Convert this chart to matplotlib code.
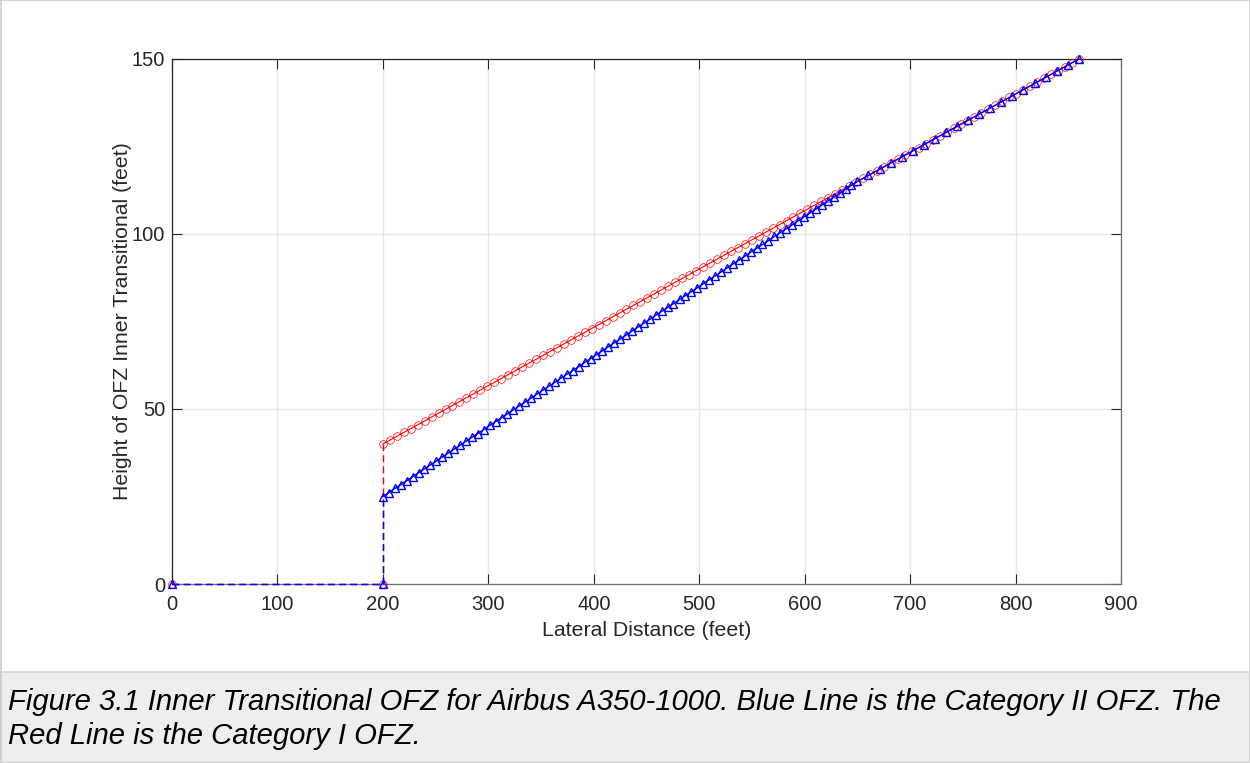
import matplotlib
matplotlib.use("Agg")
import matplotlib.pyplot as plt
from matplotlib.patches import Rectangle

plt.rcParams['font.family'] = ['Liberation Sans', 'DejaVu Sans']

## Data (feet)
# runway edge -> start of the inner transitional surface (ground segment)
ground_x = [0, 200, 200]
cat1_ground_h = [0, 0, 40]
cat2_ground_h = [0, 0, 25]

# Category I OFZ (red) sloped surface
cat1_x = [
    200, 206.6, 213.2, 219.8, 226.4, 233, 239.6, 246.2, 252.8, 259.4,
    266, 272.6, 279.2, 285.8, 292.4, 299, 305.6, 312.2, 318.8, 325.4,
    332, 338.6, 345.2, 351.8, 358.4, 365, 371.6, 378.2, 384.8, 391.4,
    398, 404.6, 411.2, 417.8, 424.4, 431, 437.6, 444.2, 450.8, 457.4,
    464, 470.6, 477.2, 483.8, 490.4, 497, 503.6, 510.2, 516.8, 523.4,
    530, 536.6, 543.2, 549.8, 556.4, 563, 569.6, 576.2, 582.8, 589.4,
    596, 602.6, 609.2, 615.8, 622.4, 629, 635.6, 642.2, 648.8, 655.4,
    662, 668.6, 675.2, 681.8, 688.4, 695, 701.6, 708.2, 714.8, 721.4,
    728, 734.6, 741.2, 747.8, 754.4, 761, 767.6, 774.2, 780.8, 787.4,
    794, 800.6, 807.2, 813.8, 820.4, 827, 833.6, 840.2, 846.8, 853.4,
    860]
cat1_h = [
    40, 41.1, 42.2, 43.3, 44.4, 45.5, 46.6, 47.7, 48.8, 49.9,
    51, 52.1, 53.2, 54.3, 55.4, 56.5, 57.6, 58.7, 59.8, 60.9,
    62, 63.1, 64.2, 65.3, 66.4, 67.5, 68.6, 69.7, 70.8, 71.9,
    73, 74.1, 75.2, 76.3, 77.4, 78.5, 79.6, 80.7, 81.8, 82.9,
    84, 85.1, 86.2, 87.3, 88.4, 89.5, 90.6, 91.7, 92.8, 93.9,
    95, 96.1, 97.2, 98.3, 99.4, 100.5, 101.6, 102.7, 103.8, 104.9,
    106, 107.1, 108.2, 109.3, 110.4, 111.5, 112.6, 113.7, 114.8, 115.9,
    117, 118.1, 119.2, 120.3, 121.4, 122.5, 123.6, 124.7, 125.8, 126.9,
    128, 129.1, 130.2, 131.3, 132.4, 133.5, 134.6, 135.7, 136.8, 137.9,
    139, 140.1, 141.2, 142.3, 143.4, 144.5, 145.6, 146.7, 147.8, 148.9,
    150]

# Category II OFZ (blue) sloped surface
cat2_x = [
    200, 205.6, 211.3, 216.9, 222.5, 228.1, 233.8, 239.4, 245, 250.6,
    256.3, 261.9, 267.5, 273.1, 278.8, 284.4, 290, 295.6, 301.3, 306.9,
    312.5, 318.1, 323.8, 329.4, 335, 340.6, 346.3, 351.9, 357.5, 363.1,
    368.8, 374.4, 380, 385.6, 391.3, 396.9, 402.5, 408.1, 413.8, 419.4,
    425, 430.6, 436.3, 441.9, 447.5, 453.1, 458.8, 464.4, 470, 475.6,
    481.3, 486.9, 492.5, 498.1, 503.8, 509.4, 515, 520.6, 526.3, 531.9,
    537.5, 543.1, 548.8, 554.4, 560, 565.6, 571.3, 576.9, 582.5, 588.1,
    593.8, 599.4, 605, 610.6, 616.3, 621.9, 627.5, 633.1, 638.8, 644.4,
    650, 660.5, 671, 681.5, 692, 702.5, 713, 723.5, 734, 744.5,
    755, 765.5, 776, 786.5, 797, 807.5, 818, 828.5, 839, 849.5,
    860]
cat2_h = [
    25, 26.1, 27.3, 28.4, 29.5, 30.6, 31.8, 32.9, 34, 35.1,
    36.3, 37.4, 38.5, 39.6, 40.8, 41.9, 43, 44.1, 45.3, 46.4,
    47.5, 48.6, 49.8, 50.9, 52, 53.1, 54.3, 55.4, 56.5, 57.6,
    58.8, 59.9, 61, 62.1, 63.3, 64.4, 65.5, 66.6, 67.8, 68.9,
    70, 71.1, 72.3, 73.4, 74.5, 75.6, 76.8, 77.9, 79, 80.1,
    81.3, 82.4, 83.5, 84.6, 85.8, 86.9, 88, 89.1, 90.3, 91.4,
    92.5, 93.6, 94.8, 95.9, 97, 98.1, 99.3, 100.4, 101.5, 102.6,
    103.8, 104.9, 106, 107.1, 108.3, 109.4, 110.5, 111.6, 112.8, 113.9,
    115, 116.75, 118.5, 120.25, 122, 123.75, 125.5, 127.25, 129, 130.75,
    132.5, 134.25, 136, 137.75, 139.5, 141.25, 143, 144.75, 146.5, 148.25,
    150]

x_ticks = [0, 100, 200, 300, 400, 500, 600, 700, 800, 900]
y_ticks = [0, 50, 100, 150]
caption = ["Figure 3.1 Inner Transitional OFZ for Airbus A350-1000. Blue Line is the Category II OFZ. The",
           "Red Line is the Category I OFZ."]

W, H = 1250, 763
fig = plt.figure(figsize=(W / 100, H / 100), dpi=100)
fig.patch.set_facecolor('white')

# caption box + outer frame (screenshot look)
fig.patches.append(Rectangle((0, 0), 1, 1 - 672 / H, transform=fig.transFigure,
                             facecolor='#eeeeee', edgecolor='#d4d4d4', linewidth=1.2, zorder=0))
fig.patches.append(Rectangle((0.0004, 0.0006), 0.9992, 0.9988, transform=fig.transFigure,
                             facecolor='none', edgecolor='#cccccc', linewidth=1.2, zorder=1))

ax = fig.add_axes([172 / W, 1 - 584 / H, (1121 - 172) / W, (584 - 59) / H])

dash = (0, (5, 3))
ax.plot(ground_x, cat1_ground_h, color='r', linestyle=dash, linewidth=1,
        marker='o', markevery=[0, 1], markersize=5.5, markerfacecolor='none',
        markeredgewidth=0.5, clip_on=False, zorder=3)
ax.plot(ground_x, cat2_ground_h, color='b', linestyle=dash, linewidth=1,
        marker='^', markevery=[0, 1], markersize=6, markerfacecolor='none',
        markeredgewidth=1, clip_on=False, zorder=4)

ax.plot(cat1_x, cat1_h, color='r', linewidth=0.8, marker='o', markersize=5.5,
        markerfacecolor='none', markeredgewidth=0.5, clip_on=False, zorder=3)
ax.plot(cat2_x, cat2_h, color='b', linewidth=1, marker='^', markersize=6,
        markerfacecolor='none', markeredgewidth=1, clip_on=False, zorder=4)

ax.set_xlim(0, 900)
ax.set_ylim(0, 150)
ax.set_xticks(x_ticks)
ax.set_yticks(y_ticks)
ax.grid(True, color='#e6e6e6', linewidth=1)
ax.set_axisbelow(True)
ax.tick_params(direction='in', length=7, width=0.8, top=True, right=True,
               colors='#262626', labelsize=14.5)
ax.tick_params(axis='x', pad=8)
ax.tick_params(axis='y', pad=5)
for side in ['top', 'left']:
    ax.spines[side].set_color('#262626')
for side in ['bottom', 'right']:
    ax.spines[side].set_color('#707070')
for sp in ax.spines.values():
    sp.set_linewidth(0.9)

ax.set_xlabel('Lateral Distance (feet)', fontsize=15.3, color='#262626', labelpad=5)
ax.set_ylabel('Height of OFZ Inner Transitional (feet)', fontsize=15.3, color='#262626', labelpad=0)

fig.text(8 / W, 1 - 710 / H, caption[0], fontsize=21.1, style='italic', va='baseline', color='black')
fig.text(8 / W, 1 - 744 / H, caption[1], fontsize=21.1, style='italic', va='baseline', color='black')

plt.savefig('out.png', dpi=100)
